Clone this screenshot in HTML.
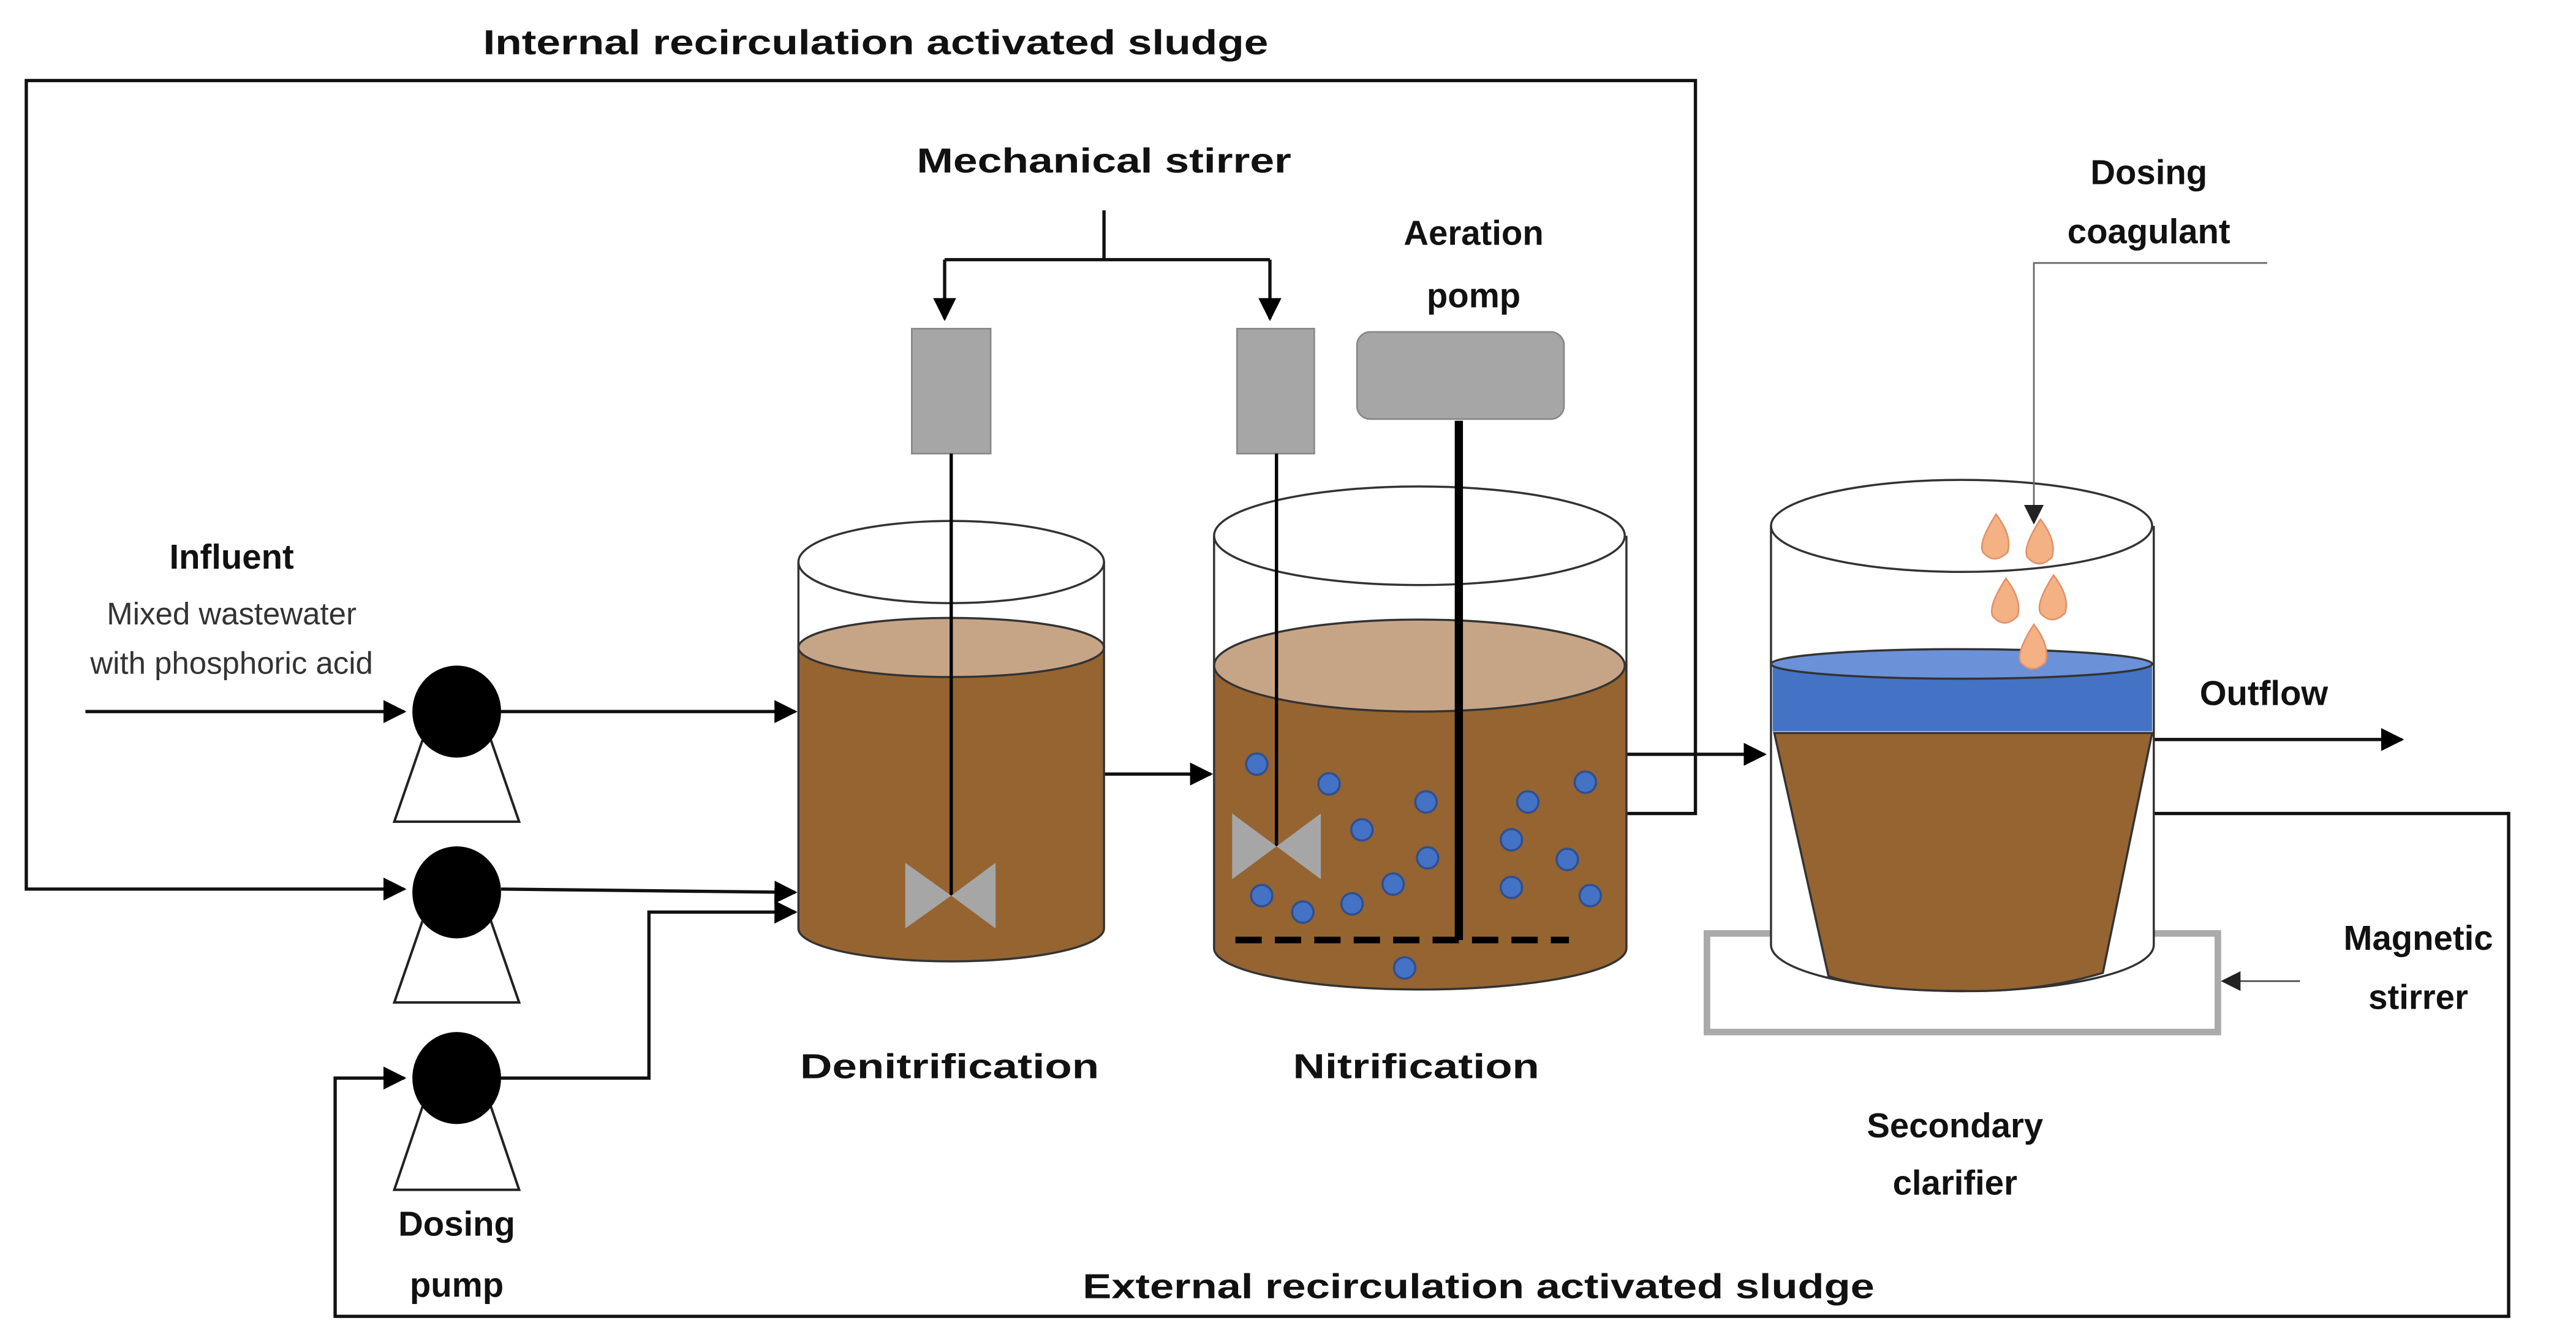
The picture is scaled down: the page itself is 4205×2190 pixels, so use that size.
<!DOCTYPE html>
<html><head><meta charset="utf-8"><style>html,body{margin:0;padding:0;background:#fff}svg{display:block}</style></head>
<body>
<svg width="4205" height="2190" viewBox="0 0 1568 816.6" xmlns="http://www.w3.org/2000/svg" font-family="Liberation Sans, sans-serif">
<defs>
<marker id="a" viewBox="0 0 10 10" refX="9" refY="5" markerWidth="7" markerHeight="7" orient="auto"><path d="M0,0L10,5L0,10z" fill="#000"/></marker>
<marker id="g" viewBox="0 0 10 10" refX="9" refY="5" markerWidth="12" markerHeight="12" orient="auto"><path d="M0,0L10,5L0,10z" fill="#222"/></marker>
</defs>
<rect width="1568" height="817" fill="#fff"/>
<g fill="#111" font-weight="bold" font-size="21" text-anchor="middle">
<text x="533" y="33" textLength="478" lengthAdjust="spacingAndGlyphs">Internal recirculation activated sludge</text>
<text x="672" y="105" textLength="228" lengthAdjust="spacingAndGlyphs">Mechanical stirrer</text>
<text x="897" y="149">Aeration</text><text x="897" y="187">pomp</text>
<text x="1308" y="112">Dosing</text><text x="1308" y="148">coagulant</text>
<text x="141" y="346">Influent</text>
<text x="1378" y="429">Outflow</text>
<text x="578" y="656" textLength="182" lengthAdjust="spacingAndGlyphs">Denitrification</text>
<text x="862" y="656" textLength="150" lengthAdjust="spacingAndGlyphs">Nitrification</text>
<text x="1190" y="692">Secondary</text><text x="1190" y="727">clarifier</text>
<text x="1472" y="578">Magnetic</text><text x="1472" y="614">stirrer</text>
<text x="278" y="752">Dosing</text><text x="278" y="789">pump</text>
<text x="900" y="790" textLength="482" lengthAdjust="spacingAndGlyphs">External recirculation activated sludge</text>
</g>
<g fill="#333" font-size="19" text-anchor="middle">
<text x="141" y="380">Mixed wastewater</text><text x="141" y="410">with phosphoric acid</text>
</g>
<g fill="none" stroke="#111" stroke-width="2">
<polyline points="990,495 1032,495 1032,49 16,49 16,541 246,541" marker-end="url(#a)"/>
<polyline points="672,128 672,158"/>
<line x1="575" y1="158" x2="773" y2="158"/>
<line x1="575" y1="158" x2="575" y2="194" marker-end="url(#a)"/>
<line x1="773" y1="158" x2="773" y2="194" marker-end="url(#a)"/>
<line x1="52" y1="433" x2="246" y2="433" marker-end="url(#a)"/>
<line x1="305" y1="433" x2="484" y2="433" marker-end="url(#a)"/>
<line x1="305" y1="541" x2="484" y2="543" marker-end="url(#a)"/>
<polyline points="305,656 395,656 395,555 484,555" marker-end="url(#a)"/>
<polyline points="1300,495 1527,495 1527,801 204,801 204,656 246,656" marker-end="url(#a)"/>
<line x1="672" y1="471" x2="737" y2="471" marker-end="url(#a)"/>
<line x1="990" y1="459" x2="1074" y2="459" marker-end="url(#a)"/>
<line x1="1311" y1="450" x2="1462" y2="450" marker-end="url(#a)"/>
</g>
<g stroke="#222" stroke-width="1.5" fill="#fff">
<polygon points="258,448 298,448 316,500 240,500"/>
<polygon points="258,558 298,558 316,610 240,610"/>
<polygon points="258,671 298,671 316,724 240,724"/>
</g>
<g fill="#000"><ellipse cx="278" cy="433" rx="27" ry="28"/><ellipse cx="278" cy="543" rx="27" ry="28"/><ellipse cx="278" cy="656" rx="27" ry="28"/></g>
<rect x="555" y="200" width="48" height="76" fill="#a6a6a6" stroke="#888"/>
<rect x="753" y="200" width="47" height="76" fill="#a6a6a6" stroke="#888"/>
<rect x="826" y="202" width="126" height="53" rx="8" fill="#a6a6a6" stroke="#888"/>
<g stroke="#333" stroke-width="1.3">
<path d="M486,394 L486,565 A93,20 0 0 0 672,565 L672,394 Z" fill="#956431"/>
<ellipse cx="579" cy="394" rx="93" ry="18" fill="#c6a587"/>
<ellipse cx="579" cy="342" rx="93" ry="25" fill="none"/>
<line x1="486" y1="342" x2="486" y2="394"/><line x1="672" y1="342" x2="672" y2="394"/>
</g>
<line x1="579" y1="276" x2="579" y2="545" stroke="#000" stroke-width="2"/>
<polygon points="551,525 579,545 551,565" fill="#a6a6a6"/><polygon points="606,525 579,545 606,565" fill="#a6a6a6"/>
<g stroke="#333" stroke-width="1.3">
<path d="M739,405 L739,577 A125,25 0 0 0 990,577 L990,405 Z" fill="#956431"/>
<ellipse cx="864" cy="405" rx="125" ry="28" fill="#c6a587"/>
<ellipse cx="864" cy="326" rx="125" ry="30" fill="none"/>
<line x1="739" y1="326" x2="739" y2="405"/><line x1="990" y1="326" x2="990" y2="405"/>
</g>
<line x1="777" y1="276" x2="777" y2="515" stroke="#000" stroke-width="2"/>
<polygon points="750,495 777,515 750,535" fill="#a6a6a6"/><polygon points="804,495 777,515 804,535" fill="#a6a6a6"/>
<line x1="888" y1="256" x2="888" y2="572" stroke="#000" stroke-width="5"/>
<line x1="752" y1="572" x2="955" y2="572" stroke="#000" stroke-width="4" stroke-dasharray="16,8"/>
<g fill="#4472c4" stroke="#2f4f8f" stroke-width="1.3">
<circle cx="765" cy="465" r="6.5"/><circle cx="809" cy="477" r="6.5"/><circle cx="868" cy="488" r="6.5"/><circle cx="930" cy="488" r="6.5"/><circle cx="965" cy="476" r="6.5"/><circle cx="829" cy="505" r="6.5"/><circle cx="869" cy="522" r="6.5"/><circle cx="920" cy="511" r="6.5"/><circle cx="954" cy="523" r="6.5"/><circle cx="768" cy="545" r="6.5"/><circle cx="793" cy="555" r="6.5"/><circle cx="823" cy="550" r="6.5"/><circle cx="848" cy="538" r="6.5"/><circle cx="920" cy="540" r="6.5"/><circle cx="968" cy="545" r="6.5"/><circle cx="855" cy="589" r="6.5"/>
</g>
<rect x="1039" y="568" width="311" height="60" fill="#fff" stroke="#aaa" stroke-width="4"/>
<line x1="1400" y1="597" x2="1353" y2="597" stroke="#444" stroke-width="1" marker-end="url(#g)"/>
<g stroke="#333" stroke-width="1.3">
<path d="M1078,320 L1078,575 A116,28 0 0 0 1311,575 L1311,320" fill="#fff"/>
<ellipse cx="1194" cy="320" rx="116" ry="28" fill="none"/>
<path d="M1079,405 L1079,445 L1310,445 L1310,405 Z" fill="#4472c4" stroke="none"/>
<ellipse cx="1194" cy="404" rx="116" ry="9" fill="#6b91d8"/>
<path d="M1080,446 L1310,446 L1280,592 Q1240,604 1194,603 Q1140,603 1113,594 Z" fill="#956431"/>
</g>
<polyline points="1380,160 1238,160 1238,318" fill="none" stroke="#666" stroke-width="1" marker-end="url(#g)"/>
<g fill="#f4b183" stroke="#e2916a" stroke-width="1">
<path d="M1215,313 Q1204,330 1207,336 Q1214,344 1222,336 Q1225,326 1215,313z"/>
<path d="M1242,316 Q1231,333 1234,339 Q1241,347 1249,339 Q1252,329 1242,316z"/>
<path d="M1221,352 Q1210,369 1213,375 Q1220,383 1228,375 Q1231,365 1221,352z"/>
<path d="M1250,350 Q1239,367 1242,373 Q1249,381 1257,373 Q1260,363 1250,350z"/>
<path d="M1238,380 Q1227,397 1230,403 Q1237,411 1245,403 Q1248,393 1238,380z"/>
</g>
</svg>
</body></html>
